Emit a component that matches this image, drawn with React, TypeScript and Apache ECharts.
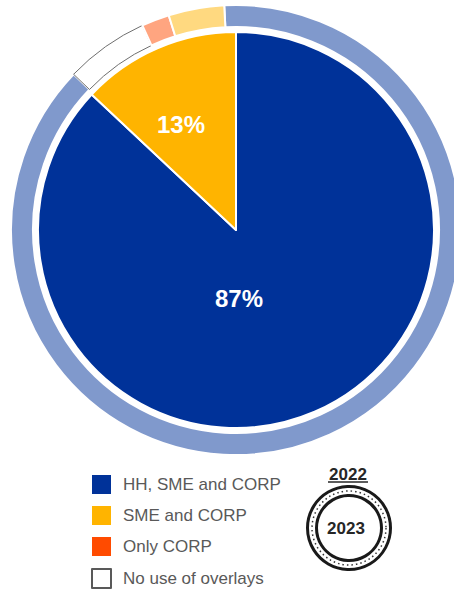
import React, { useEffect, useRef } from "react";
import * as echarts from "echarts";

const categories = ["HH, SME and CORP", "SME and CORP", "Only CORP", "No use of overlays"];
const values2023 = [87, 13, 0, 0];
const values2022 = [88, 4, 2, 6];
const ringOrder = [0, 3, 2, 1]; // clockwise order of the 2022 ring
const mainColors = ["#003299", "#FFB400", "#FF4B00", "#FFFFFF"];
const lightColors = ["#8099CC", "#FFD980", "#FFA580", "#FFFFFF"];
const yearOuter = "2022";
const yearInner = "2023";

const FONT = "'Liberation Sans', Arial, sans-serif";

export default function App() {
  const ref = useRef<HTMLDivElement>(null);
  useEffect(() => {
    const chart = echarts.init(ref.current!, null, { renderer: "svg" });
    const innerData = categories
      .map((name, i) => ({ name, value: values2023[i], itemStyle: { color: mainColors[i] } }))
      .filter((d) => d.value > 0);
    const ringData = ringOrder.map((i) => ({
      name: categories[i],
      value: values2022[i],
      itemStyle:
        i === 3
          ? { color: lightColors[i], borderColor: "#6F6F6F", borderWidth: 1 }
          : { color: lightColors[i], borderColor: "#FFFFFF", borderWidth: 2 },
    }));
    const labelPos = [
      [239, 298],
      [181, 124],
    ];
    chart.setOption({
      animation: false,
      legend: {
        orient: "vertical",
        left: 91,
        top: 475,
        padding: 0,
        itemWidth: 19,
        itemHeight: 19,
        itemGap: 12,
        selectedMode: false,
        textStyle: { fontSize: 17, color: "#595959", fontFamily: FONT, padding: [0, 0, 0, 7] },
        data: categories.map((name, i) => ({
          name,
          icon: "rect",
          itemStyle:
            i === 3
              ? { color: "#FFFFFF", borderColor: "#595959", borderWidth: 2 }
              : { color: mainColors[i], borderWidth: 0 },
        })),
      },
      series: [
        {
          type: "pie",
          name: yearOuter,
          center: [236, 230],
          radius: [203, 225],
          startAngle: 93,
          clockwise: true,
          silent: true,
          label: { show: false },
          labelLine: { show: false },
          data: ringData,
        },
        {
          type: "pie",
          name: yearInner,
          center: [236, 230],
          radius: [0, 198],
          startAngle: 90,
          clockwise: true,
          silent: true,
          itemStyle: { borderColor: "#FFFFFF", borderWidth: 2 },
          label: {
            show: true,
            position: "inside",
            formatter: "{c}%",
            color: "#FFFFFF",
            fontSize: 24,
            fontWeight: "bold",
            fontFamily: FONT,
          },
          labelLine: { show: false },
          labelLayout: (p: any) => ({
            x: labelPos[p.dataIndex][0],
            y: labelPos[p.dataIndex][1],
            align: "center",
            verticalAlign: "middle",
          }),
          data: innerData,
        },
      ],
      graphic: [
        { type: "circle", shape: { cx: 349, cy: 528, r: 41.5 }, style: { fill: "none", stroke: "#1a1a1a", lineWidth: 3 } },
        {
          type: "circle",
          shape: { cx: 349, cy: 528, r: 37 },
          style: { fill: "none", stroke: "#333", lineWidth: 1.5, lineDash: [1.5, 3] },
        },
        { type: "circle", shape: { cx: 349, cy: 528, r: 32.5 }, style: { fill: "none", stroke: "#1a1a1a", lineWidth: 3 } },
        {
          type: "text",
          x: 348,
          y: 474,
          style: {
            text: yearOuter,
            fill: "#262626",
            font: `bold 17px ${FONT}`,
            align: "center",
            verticalAlign: "middle",
          },
        },
        { type: "line", shape: { x1: 328, y1: 482, x2: 368, y2: 482 }, style: { stroke: "#262626", lineWidth: 1.5 } },
        {
          type: "text",
          x: 346,
          y: 528,
          style: {
            text: yearInner,
            fill: "#262626",
            font: `bold 17px ${FONT}`,
            align: "center",
            verticalAlign: "middle",
          },
        },
      ],
    });
    return () => chart.dispose();
  }, []);
  return (
    <div
      ref={ref}
      style={{ position: "absolute", left: 0, top: 0, width: 454, height: 593, background: "#fff" }}
    />
  );
}
